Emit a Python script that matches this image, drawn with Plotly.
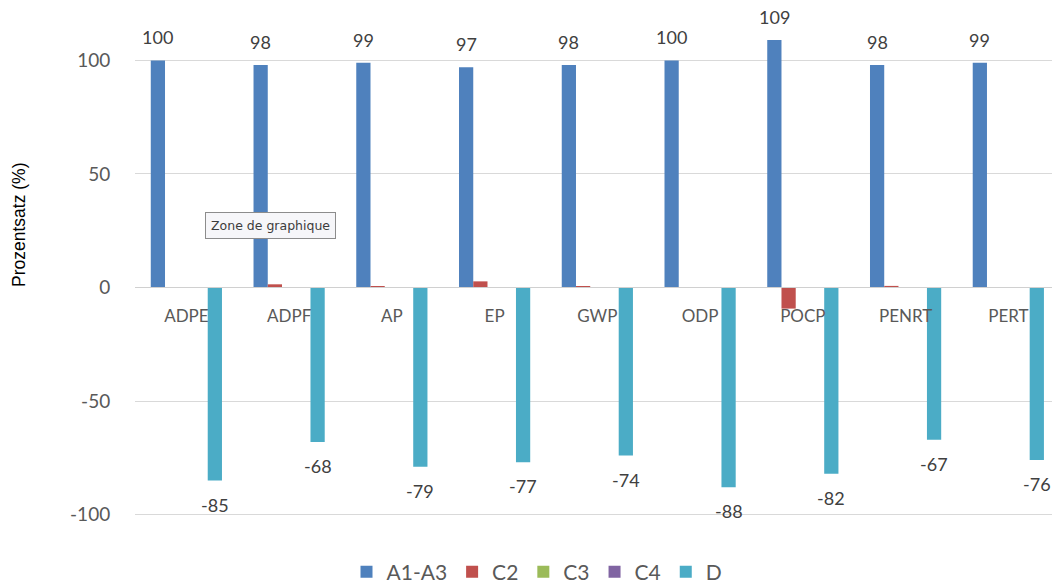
import plotly.graph_objects as go

categories = ["ADPE", "ADPF", "AP", "EP", "GWP", "ODP", "POCP", "PENRT", "PERT"]
a1_a3 = [100, 98, 99, 97, 98, 100, 109, 98, 99]
c2 = [0.1, 1.4, 0.6, 2.7, 0.6, 0.1, -9.3, 0.7, 0.1]
c3 = [0, 0, 0, 0, 0, 0, 0, 0, 0]
c4 = [0, 0, 0, 0, 0, 0, 0, 0, 0]
d = [-85, -68, -79, -77, -74, -88, -82, -67, -76]
series_names = ["A1-A3", "C2", "C3", "C4", "D"]
series_colors = ["#4F81BD", "#C0504D", "#9BBB59", "#8064A2", "#4BACC6"]
y_ticks = [-100, -50, 0, 50, 100]
y_ticktext = ["-100", "-50", "0", "50", "100"]

W, H = 1052, 585
ML, MR, MT, MB = 135, 0, 15, 55
Y0, Y1 = -106.8, 120.0
plot_h = H - MT - MB
zero_pos = (0 - Y0) / (Y1 - Y0)

FONT = "Lato"
GRAY = "#595959"
LABEL = "#404040"

fig = go.Figure()
for name, vals, col in zip(series_names, [a1_a3, c2, c3, c4, d], series_colors):
    fig.add_trace(go.Bar(x=categories, y=vals, name=name, marker_color=col,
                         marker_line_width=0))

plot_w = W - ML - MR
xr = [-0.5, 8.425]
cat_px = plot_w / (xr[1] - xr[0])
bargap = 0.307
bar_w = cat_px * (1 - bargap) / 5

for i, cat in enumerate(categories):
    fig.add_annotation(x=cat, y=a1_a3[i], text=str(a1_a3[i]), showarrow=False,
                       xshift=-2 * bar_w, yanchor="bottom", yshift=10,
                       font=dict(family=FONT, size=18, color=LABEL))
    fig.add_annotation(x=cat, y=d[i], text=str(d[i]), showarrow=False,
                       xshift=2 * bar_w, yanchor="top", yshift=-11,
                       font=dict(family=FONT, size=18, color=LABEL))

fig.add_annotation(xref="paper", yref="paper", x=(19 - ML) / plot_w,
                   xanchor="center",
                   y=(H - MB - 225) / plot_h, yanchor="middle",
                   text="Prozentsatz (%)",
                   textangle=-90, showarrow=False,
                   font=dict(family="Liberation Sans", size=17.5, color="#000000"))

fig.add_annotation(xref="paper", yref="paper", x=(270 - ML) / plot_w,
                   xanchor="center",
                   y=(H - MB - 225) / plot_h, yanchor="middle",
                   text="Zone de graphique",
                   showarrow=False, bgcolor="#f6f6f9", bordercolor="#8c8c8c",
                   borderwidth=1, borderpad=5,
                   font=dict(family="DejaVu Sans", size=12.5, color="#3c3c3c"))

fig.update_layout(
    width=W, height=H,
    margin=dict(l=ML, r=MR, t=MT, b=MB, autoexpand=False),
    paper_bgcolor="white", plot_bgcolor="white",
    barmode="group", bargap=bargap, bargroupgap=0,
    font=dict(family=FONT, size=18, color=GRAY),
    showlegend=True,
    legend=dict(orientation="h", xref="container", x=537 / W, xanchor="center",
                yref="container", y=(H - 572) / H, yanchor="middle",
                font=dict(family=FONT, size=21, color=GRAY),
                traceorder="normal", itemwidth=30),
    xaxis=dict(range=xr, anchor="free", position=zero_pos,
               showline=True, linecolor="#d0d0d0", linewidth=1,
               ticks="outside", ticklen=13, tickcolor="rgba(0,0,0,0)",
               tickfont=dict(family=FONT, size=17, color=GRAY),
               showgrid=False, zeroline=False),
    yaxis=dict(range=[Y0, Y1], tickvals=y_ticks, ticktext=y_ticktext,
               showgrid=True, gridcolor="#d9d9d9", gridwidth=1,
               zeroline=False, showline=False,
               ticks="outside", ticklen=20, tickcolor="rgba(0,0,0,0)",
               tickfont=dict(family=FONT, size=19, color=GRAY)),
)

fig.write_html("out.html")
